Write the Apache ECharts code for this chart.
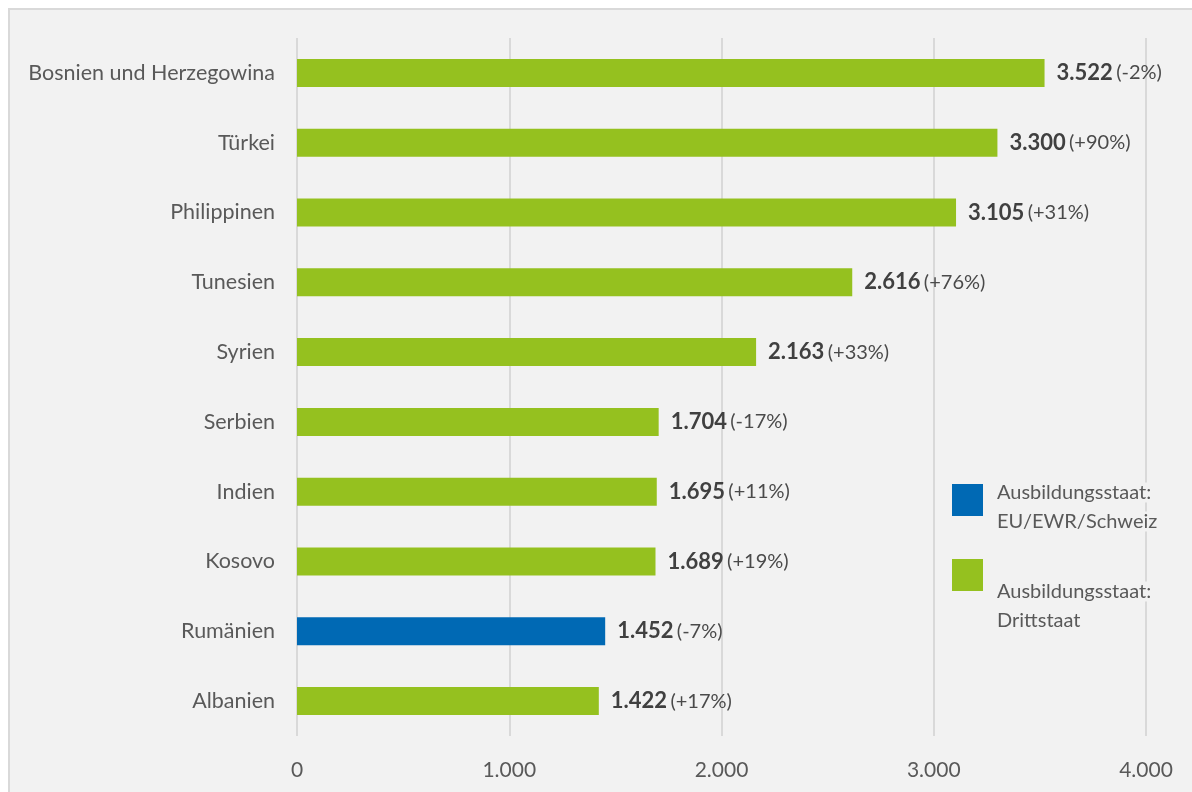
<!DOCTYPE html>
<html>
<head>
<meta charset="utf-8">
<script src="https://cdn.jsdelivr.net/npm/echarts@6/dist/echarts.min.js"></script>
<style>
  html, body { margin: 0; padding: 0; background: #ffffff; }
  #chart { width: 1192px; height: 792px; }
</style>
</head>
<body>
<div id="chart"></div>
<script>
// Top countries by number of recognitions, with change vs. previous year
const countries = ['Bosnien und Herzegowina', 'Türkei', 'Philippinen', 'Tunesien', 'Syrien',
                   'Serbien', 'Indien', 'Kosovo', 'Rumänien', 'Albanien'];
const values = [3522, 3300, 3105, 2616, 2163, 1704, 1695, 1689, 1452, 1422];
const changes = ['-2%', '+90%', '+31%', '+76%', '+33%', '-17%', '+11%', '+19%', '-7%', '+17%'];
// Training country group: 'EU' = EU/EWR/Schweiz, 'DS' = Drittstaat
const groups = ['DS', 'DS', 'DS', 'DS', 'DS', 'DS', 'DS', 'DS', 'EU', 'DS'];
const legendNames = ['Ausbildungsstaat:\nEU/EWR/Schweiz', 'Ausbildungsstaat:\nDrittstaat'];
const xTicks = { min: 0, max: 4000, interval: 1000 };

const FONT = 'Lato';
const fmt = v => v.toString().replace(/\B(?=(\d{3})+(?!\d))/g, '.');

// Reverse so the first country sits at the top
const cats = countries.slice().reverse();
const vals = values.slice().reverse();
const chg = changes.slice().reverse();
const grp = groups.slice().reverse();

const seriesData = key => vals.map((v, i) => grp[i] === key ? v : null);

const labelCfg = {
  show: true,
  position: 'right',
  distance: 12,
  formatter: p => '{b|' + fmt(p.value) + '} {n|(' + chg[p.dataIndex] + ')}',
  rich: {
    b: { fontFamily: FONT, fontSize: 22, fontWeight: 'bold', color: '#404040' },
    n: { fontFamily: FONT, fontSize: 20, color: '#4a4a4a' }
  }
};

// Legend: text block pushed down below the swatch by a spacer line
const legendItem = (name, top, spacer) => ({
  orient: 'vertical',
  left: 952, top: top,
  itemWidth: 31, itemHeight: 32,
  icon: 'rect',
  padding: 0,
  data: [name],
  formatter: n => '{s|}\n' + n.split('\n').map(t => '{t|' + t + '}').join('\n'),
  textStyle: {
    padding: [0, 0, 0, 9],
    rich: {
      s: { lineHeight: spacer, height: spacer },
      t: { fontFamily: FONT, fontSize: 20, color: '#595959', lineHeight: 29, backgroundColor: '#f2f2f2' }
    }
  }
});

const chart = echarts.init(document.getElementById('chart'));
chart.setOption({
  backgroundColor: '#ffffff',
  animation: false,
  graphic: [{
    type: 'rect', z: -10, silent: true,
    shape: { x: 9, y: 9, width: 1400, height: 1000 },
    style: { fill: '#f2f2f2', stroke: '#d9d9d9', lineWidth: 2 }
  }],
  grid: { left: 297, right: 46, top: 38, bottom: 56, containLabel: false },
  legend: [
    legendItem(legendNames[0], 464, 14),
    legendItem(legendNames[1], 515, 62)
  ],
  xAxis: {
    type: 'value',
    min: xTicks.min, max: xTicks.max, interval: xTicks.interval,
    axisLine: { show: false },
    axisTick: { show: false },
    splitLine: { lineStyle: { color: '#d9d9d9', width: 2 } },
    axisLabel: {
      fontFamily: FONT, fontSize: 21, color: '#595959', margin: 24,
      formatter: v => fmt(v)
    }
  },
  yAxis: {
    type: 'category',
    data: cats,
    axisLine: { show: false },
    axisTick: { show: false },
    axisLabel: { fontFamily: FONT, fontSize: 21.5, color: '#595959', margin: 22 }
  },
  series: [
    {
      name: legendNames[0], type: 'bar', stack: 'a',
      data: seriesData('EU'), barWidth: 28,
      itemStyle: { color: '#0069b4' }, label: labelCfg
    },
    {
      name: legendNames[1], type: 'bar', stack: 'a',
      data: seriesData('DS'), barWidth: 28,
      itemStyle: { color: '#95c11f' }, label: labelCfg
    }
  ]
});
</script>
</body>
</html>
